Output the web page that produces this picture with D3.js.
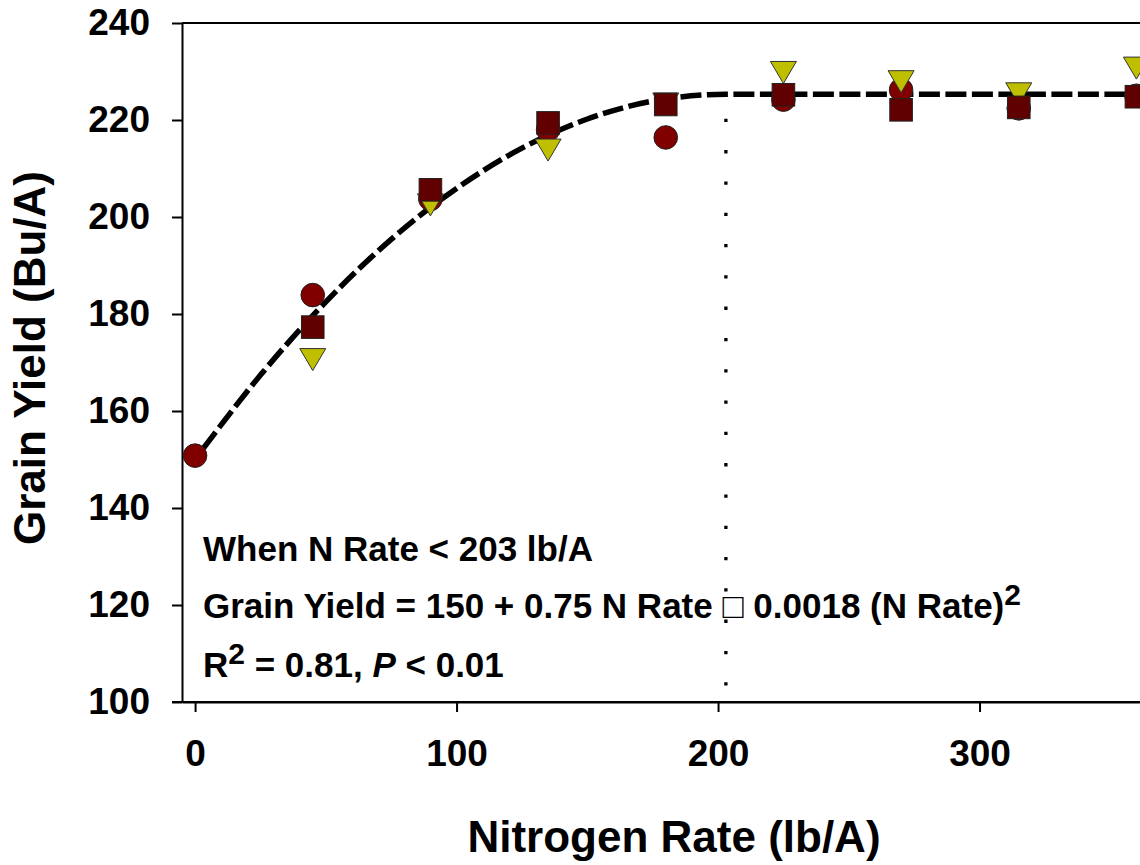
<!DOCTYPE html>
<html>
<head>
<meta charset="utf-8">
<script src="https://cdn.jsdelivr.net/npm/d3@7"></script>
<style>
  body { margin: 0; background: #fff; }
  svg { display: block; font-family: "Liberation Sans", Arial, sans-serif; font-weight: bold; }
</style>
</head>
<body>
<div id="chart"></div>
<script>
// N rates (lb/A) and grain yields (Bu/A) for the three series
const rates = [0, 45, 90, 135, 180, 225, 270, 315, 360];
const circleYield = [150.8, 183.9, 203.7, 218.0, 216.4, 224.2, 226.2, 222.4, 225.0];
const triangleYield = [null, 170.6, 202.5, 213.8, 223.3, 229.8, 227.9, 225.4, 230.7];
const squareYield = [null, 177.3, 205.6, 219.4, 223.2, 225.2, 222.1, 222.6, 224.8];

// fitted quadratic-plateau line
const fitRate = [3, 25, 50, 75, 100, 125, 150, 175, 203, 365];
const fitYield = [152.2, 167.4, 182.5, 195.4, 205.9, 214.2, 220.2, 223.9, 225.3, 225.3];
const joinRate = 203;

const yTicks = [100, 120, 140, 160, 180, 200, 220, 240];
const xTicks = [0, 100, 200, 300];

const width = 1140, height = 865;
const svg = d3.select("#chart").append("svg")
  .attr("width", width)
  .attr("height", height);

const x = d3.scaleLinear().domain([-5, 365]).range([182, 1149.5]);
const y = d3.scaleLinear().domain([100, 240]).range([702, 23]);

// axes
const gy = svg.append("g")
  .attr("transform", "translate(182,0)")
  .call(d3.axisLeft(y).tickValues(yTicks).tickSize(10).tickSizeOuter(0).tickPadding(22));
const gx = svg.append("g")
  .attr("transform", "translate(0,702)")
  .call(d3.axisBottom(x).tickValues(xTicks).tickSize(10).tickSizeOuter(0).tickPadding(28));
[gx, gy].forEach(g => {
  g.selectAll("path.domain").attr("stroke", "#000").attr("stroke-width", 2);
  g.selectAll(".tick line").attr("stroke", "#000").attr("stroke-width", 2);
  g.selectAll(".tick text")
    .attr("fill", "#000")
    .style("font-size", "37px")
    .style("font-family", "'Liberation Sans', Arial, sans-serif")
    .style("font-weight", "bold");
});
// extend bottom axis line to the tick at 100 and draw the top border
svg.append("line")
  .attr("x1", 172).attr("x2", width).attr("y1", 702).attr("y2", 702)
  .attr("stroke", "#000").attr("stroke-width", 2);
svg.append("line")
  .attr("x1", 182).attr("x2", width).attr("y1", y(240)).attr("y2", y(240))
  .attr("stroke", "#000").attr("stroke-width", 2);

// axis titles
svg.append("text")
  .attr("x", 674).attr("y", 852)
  .attr("text-anchor", "middle")
  .style("font-size", "44px")
  .text("Nitrogen Rate (lb/A)");
svg.append("text")
  .attr("transform", "translate(45,358) rotate(-90)")
  .attr("text-anchor", "middle")
  .style("font-size", "44px")
  .text("Grain Yield (Bu/A)");

// vertical dotted line at the join point
svg.append("line")
  .attr("x1", x(joinRate)).attr("x2", x(joinRate))
  .attr("y1", y(fitYield[8])).attr("y2", y(100))
  .attr("stroke", "#000").attr("stroke-width", 3.3)
  .attr("stroke-dasharray", "3.3 28")
  .attr("stroke-dashoffset", 6.8);

// fitted curve
const fit = fitRate.map((r, i) => ({ r, v: fitYield[i] }));
const line = d3.line()
  .curve(d3.curveMonotoneX)
  .x(d => x(d.r))
  .y(d => y(d.v));
svg.append("path")
  .datum(fit)
  .attr("d", line)
  .attr("fill", "none")
  .attr("stroke", "#000")
  .attr("stroke-width", 5.5)
  .attr("stroke-dasharray", "21 5.5");

// markers: circles, then triangles, then squares
const pts = arr => rates.map((r, i) => ({ r, v: arr[i] })).filter(d => d.v != null);

svg.append("g").selectAll("circle")
  .data(pts(circleYield)).join("circle")
  .attr("cx", d => x(d.r)).attr("cy", d => y(d.v))
  .attr("r", 11.8)
  .attr("fill", "#800000").attr("stroke", "#222").attr("stroke-width", 1);

const tw = 13, th = 11;
svg.append("g").selectAll("path")
  .data(pts(triangleYield)).join("path")
  .attr("transform", d => `translate(${x(d.r)},${y(d.v)})`)
  .attr("d", `M${-tw},${-th}L${tw},${-th}L0,${th}Z`)
  .attr("fill", "#bfbf00").attr("stroke", "#333").attr("stroke-width", 1);

const sq = 11.3;
svg.append("g").selectAll("rect")
  .data(pts(squareYield)).join("rect")
  .attr("x", d => x(d.r) - sq).attr("y", d => y(d.v) - sq)
  .attr("width", sq * 2).attr("height", sq * 2)
  .attr("fill", "#600000").attr("stroke", "#222").attr("stroke-width", 1);

// regression annotation
const note = svg.append("g").style("font-size", "35px");
note.append("text").attr("x", 203).attr("y", 561).text("When N Rate < 203 lb/A");
const l2 = note.append("text").attr("x", 203).attr("y", 618);
l2.append("tspan").text("Grain Yield = 150 + 0.75 N Rate \u25A1 0.0018 (N Rate)");
l2.append("tspan").attr("dy", -13).style("font-size", "30px").text("2");
const l3 = note.append("text").attr("x", 203).attr("y", 677);
l3.append("tspan").text("R");
l3.append("tspan").attr("dy", -13).style("font-size", "30px").text("2");
l3.append("tspan").attr("dy", 13).text(" = 0.81, ");
l3.append("tspan").style("font-style", "italic").text("P");
l3.append("tspan").text(" < 0.01");
</script>
</body>
</html>
